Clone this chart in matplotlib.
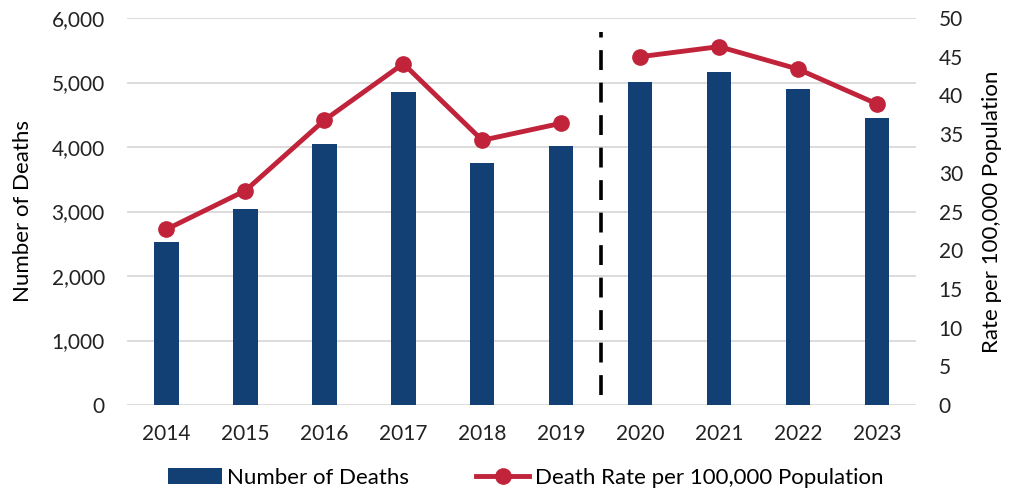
import matplotlib
matplotlib.use("Agg")
import matplotlib.pyplot as plt
from matplotlib.ticker import FuncFormatter

plt.rcParams['font.family'] = ['Lato', 'DejaVu Sans']

years = ["2014", "2015", "2016", "2017", "2018", "2019", "2020", "2021", "2022", "2023"]
deaths = [2522, 3044, 4041, 4848, 3752, 4021, 5008, 5168, 4904, 4445]
rates = [22.7, 27.7, 36.8, 44.1, 34.2, 36.4, 45.0, 46.3, 43.4, 38.9]

bar_color = "#123F74"
line_color = "#C0233A"

fig = plt.figure(figsize=(10.21, 5), dpi=100)
ax = fig.add_axes([0.1244, 0.19, 0.7732, 0.774])
ax2 = ax.twinx()

x = list(range(len(years)))
bars = ax.bar(x, deaths, width=0.31, color=bar_color, zorder=2, label="Number of Deaths")
ax.set_ylim(0, 6000)
ax.set_xlim(-0.5, len(years) - 0.5)
ax.set_yticks(range(0, 6001, 1000))
ax.yaxis.set_major_formatter(FuncFormatter(lambda v, p: f"{int(v):,}"))
ax.grid(axis="y", color="#D9D9D9", linewidth=1.3, zorder=0)
ax.set_axisbelow(True)
ax.set_xticks(x)
ax.set_xticklabels(years)
ax.set_ylabel("Number of Deaths", fontsize=16)
ax.yaxis.set_label_coords(-0.119, 0.5)

# pre/post 2020 separator
ax.plot([5.5, 5.5], [160, 5780], color="black", linestyle=(0, (5.5, 3.5)), linewidth=2.6, zorder=3)

ax2.plot(x[:6], rates[:6], color=line_color, linewidth=3.5, marker="o", markersize=11, zorder=4)
line, = ax2.plot(x[6:], rates[6:], color=line_color, linewidth=3.5, marker="o", markersize=11, zorder=4,
                 label="Death Rate per 100,000 Population")
ax2.set_ylim(0, 50)
ax2.set_yticks(range(0, 51, 5))
ax2.set_ylabel("Rate per 100,000 Population", fontsize=16)
ax2.yaxis.set_label_coords(1.083, 0.5)

for a in (ax, ax2):
    for s in a.spines.values():
        s.set_visible(False)
    a.tick_params(length=0, labelsize=15, colors="#222222")
ax.tick_params(axis="x", pad=14)
ax.tick_params(axis="y", pad=16)
ax2.tick_params(axis="y", pad=16)

fig.legend([bars, line], ["Number of Deaths", "Death Rate per 100,000 Population"],
           loc="lower center", bbox_to_anchor=(0.515, -0.015), ncol=2, frameon=False,
           fontsize=16, handlelength=2.4, handletextpad=0.25, columnspacing=3.0)

fig.savefig("out.png", dpi=100)
